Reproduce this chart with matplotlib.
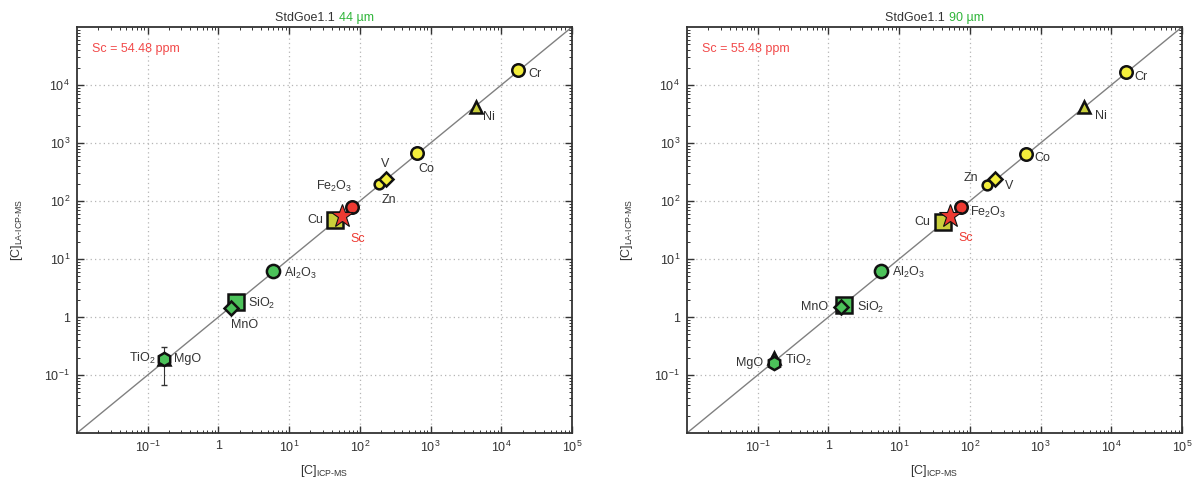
import matplotlib
matplotlib.use("Agg")
import matplotlib.pyplot as plt
from matplotlib.ticker import FixedLocator, FixedFormatter, LogLocator, NullFormatter

plt.rcParams['font.family'] = ['Liberation Sans', 'DejaVu Sans']
plt.rcParams['mathtext.fontset'] = 'custom'
plt.rcParams['mathtext.rm'] = 'Liberation Sans'
plt.rcParams['mathtext.it'] = 'Liberation Sans:italic'

# ---------------- data ----------------
labels = ["Cr", "Ni", "Co", "V", "Zn", "Fe$_2$O$_3$", "Sc", "Cu",
          "Al$_2$O$_3$", "SiO$_2$", "MnO", "TiO$_2$", "MgO"]

left_x = [1.75e4, 4.4e3, 650, 236, 186, 78, 56, 45, 5.9, 1.75, 1.5, 0.17, 0.17]
left_y = [1.8e4, 4.1e3, 660, 240, 200, 79, 54.5, 47, 6.2, 1.8, 1.43, 0.19, 0.19]
left_yerr_lo = [0, 0, 0, 0, 0, 0, 0, 0, 0, 0, 0, 0, 0.123]
left_yerr_hi = [0, 0, 0, 0, 0, 0, 0, 0, 0, 0, 0, 0, 0.11]

right_x = [1.6e4, 4.1e3, 620, 225, 174, 74, 53, 42, 5.6, 1.67, 1.5, 0.17, 0.17]
right_y = [1.65e4, 4.1e3, 650, 240, 190, 79, 55.5, 44, 6.2, 1.6, 1.5, 0.2, 0.16]
right_yerr_lo = [0, 0, 0, 0, 0, 0, 0, 0, 0, 0, 0, 0, 0.03]
right_yerr_hi = [0, 0, 0, 0, 0, 0, 0, 0, 0, 0, 0, 0, 0.05]

left_title_size = "44 µm"
right_title_size = "90 µm"
left_sc = "Sc = 54.48 ppm"
right_sc = "Sc = 55.48 ppm"

x_tick_vals = [1e-1, 1, 1e1, 1e2, 1e3, 1e4, 1e5]
x_tick_labels = ["10$^{-1}$", "1", "10$^{1}$", "10$^{2}$", "10$^{3}$", "10$^{4}$", "10$^{5}$"]
y_tick_vals = [1e-1, 1, 1e1, 1e2, 1e3, 1e4]
y_tick_labels = ["10$^{-1}$", "1", "10$^{1}$", "10$^{2}$", "10$^{3}$", "10$^{4}$"]

# ---------------- styles ----------------
YEL = "#f3ee3c"
OLV = "#c9cf3a"
GRN = "#4cc25a"
RED = "#ee3a32"
markers = ["o", "^", "o", "D", "o", "o", "*", "s", "o", "s", "D", "^", "h"]
faces = [YEL, OLV, YEL, YEL, YEL, RED, RED, OLV, GRN, GRN, GRN, GRN, GRN]
sizes = [9, 8.5, 9, 7, 7, 9, 17, 11, 9.5, 11, 7, 8.5, 9.5]
zord = [5, 5, 5, 6, 5, 5, 8, 4, 5, 4, 6, 5, 6]

left_off = [(7, -3, 'left'), (5, -7, 'left'), (1, -11, 'left'), (-1, 11, 'center'),
            (2, -12, 'left'), (-13, 15, 'center'), (6, -16, 'left'), (-9, 0, 'right'),
            (8, -2, 'left'), (9, -1, 'left'), (0, -12, 'left'), (-6, 0, 'right'),
            (7, 0, 'left')]
right_off = [(6, -3, 'left'), (8, -6, 'left'), (6, -3, 'left'), (7, -5, 'left'),
             (-6, 5, 'right'), (7, -4, 'left'), (6, -16, 'left'), (-9, 0, 'right'),
             (8, -1, 'left'), (9, -2, 'left'), (-9, 0, 'right'), (8, -2, 'left'),
             (-8, 0, 'right')]

TXT = "#333333"
FS = 9

fig = plt.figure(figsize=(11.95, 4.82), dpi=100)
axL = fig.add_axes([77 / 1195, 49 / 482, 495 / 1195, 406 / 482])
axR = fig.add_axes([687 / 1195, 49 / 482, 495 / 1195, 406 / 482])


def draw(ax, xs, ys, elo, ehi, offs, size_txt, sc_txt):
    ax.set_xscale("log")
    ax.set_yscale("log")
    ax.set_xlim(1e-2, 1e5)
    ax.set_ylim(1e-2, 1e5)
    ax.plot([1e-2, 1e5], [1e-2, 1e5], color="#808080", lw=1.0, zorder=2)
    for i, lab in enumerate(labels):
        if elo[i] > 0 or ehi[i] > 0:
            ax.errorbar([xs[i]], [ys[i]], yerr=[[elo[i]], [ehi[i]]], fmt="none",
                        ecolor="#333333", elinewidth=0.8, capsize=2, zorder=3)
        ax.plot([xs[i]], [ys[i]], marker=markers[i], ms=sizes[i], mfc=faces[i],
                mec="#111111", mew=1.8 if markers[i] != "*" else 0.8,
                linestyle="none", zorder=zord[i])
        dx, dy, ha = offs[i]
        col = RED if lab == "Sc" else TXT
        ax.annotate(lab, (xs[i], ys[i]), xytext=(dx, dy), textcoords="offset points",
                    ha=ha, va="center", fontsize=FS, color=col, zorder=10)
    ax.xaxis.set_major_locator(FixedLocator(x_tick_vals))
    ax.xaxis.set_major_formatter(FixedFormatter(x_tick_labels))
    ax.yaxis.set_major_locator(FixedLocator(y_tick_vals))
    ax.yaxis.set_major_formatter(FixedFormatter(y_tick_labels))
    ax.xaxis.set_minor_locator(LogLocator(base=10, subs=range(2, 10), numticks=20))
    ax.yaxis.set_minor_locator(LogLocator(base=10, subs=range(2, 10), numticks=20))
    ax.xaxis.set_minor_formatter(NullFormatter())
    ax.yaxis.set_minor_formatter(NullFormatter())
    ax.tick_params(which="both", direction="in", top=True, right=True,
                   colors="#333333", labelsize=9, labelcolor=TXT)
    ax.tick_params(which="major", length=5, width=1.0, pad=5)
    ax.tick_params(which="minor", length=2.5, width=0.7)
    ax.grid(True, which="major", linestyle=(0, (1, 2.5)), color="#b5b5b5", lw=0.9)
    for s in ax.spines.values():
        s.set_color("#333333")
        s.set_linewidth(1.3)
    ax.set_xlabel("[C]$_{\\mathregular{ICP\\text{-}MS}}$", fontsize=9, color=TXT, labelpad=6)
    ax.set_ylabel("[C]$_{\\mathregular{LA\\text{-}ICP\\text{-}MS}}$", fontsize=9, color=TXT, labelpad=14)
    ax.text(0.03, 0.945, sc_txt, transform=ax.transAxes, color="#f24a4a",
            fontsize=9, ha="left", va="center")
    t1 = ax.text(0.5, 1.008, "StdGoe1.1 ", transform=ax.transAxes, ha="right",
                 va="bottom", fontsize=9, color=TXT)
    t2 = ax.text(0.5, 1.008, size_txt, transform=ax.transAxes, ha="left",
                 va="bottom", fontsize=9, color="#2fb53a")
    return t1, t2


titles = [draw(axL, left_x, left_y, left_yerr_lo, left_yerr_hi, left_off,
               left_title_size, left_sc),
          draw(axR, right_x, right_y, right_yerr_lo, right_yerr_hi, right_off,
               right_title_size, right_sc)]

fig.canvas.draw()
r = fig.canvas.get_renderer()
for ax, (t1, t2) in zip([axL, axR], titles):
    w1 = t1.get_window_extent(r).width
    w2 = t2.get_window_extent(r).width
    axw = ax.get_window_extent(r).width
    shift = (w1 - w2) / 2.0 / axw
    t1.set_x(0.5 + shift)
    t2.set_x(0.5 + shift)

fig.savefig("out.png", dpi=100)
